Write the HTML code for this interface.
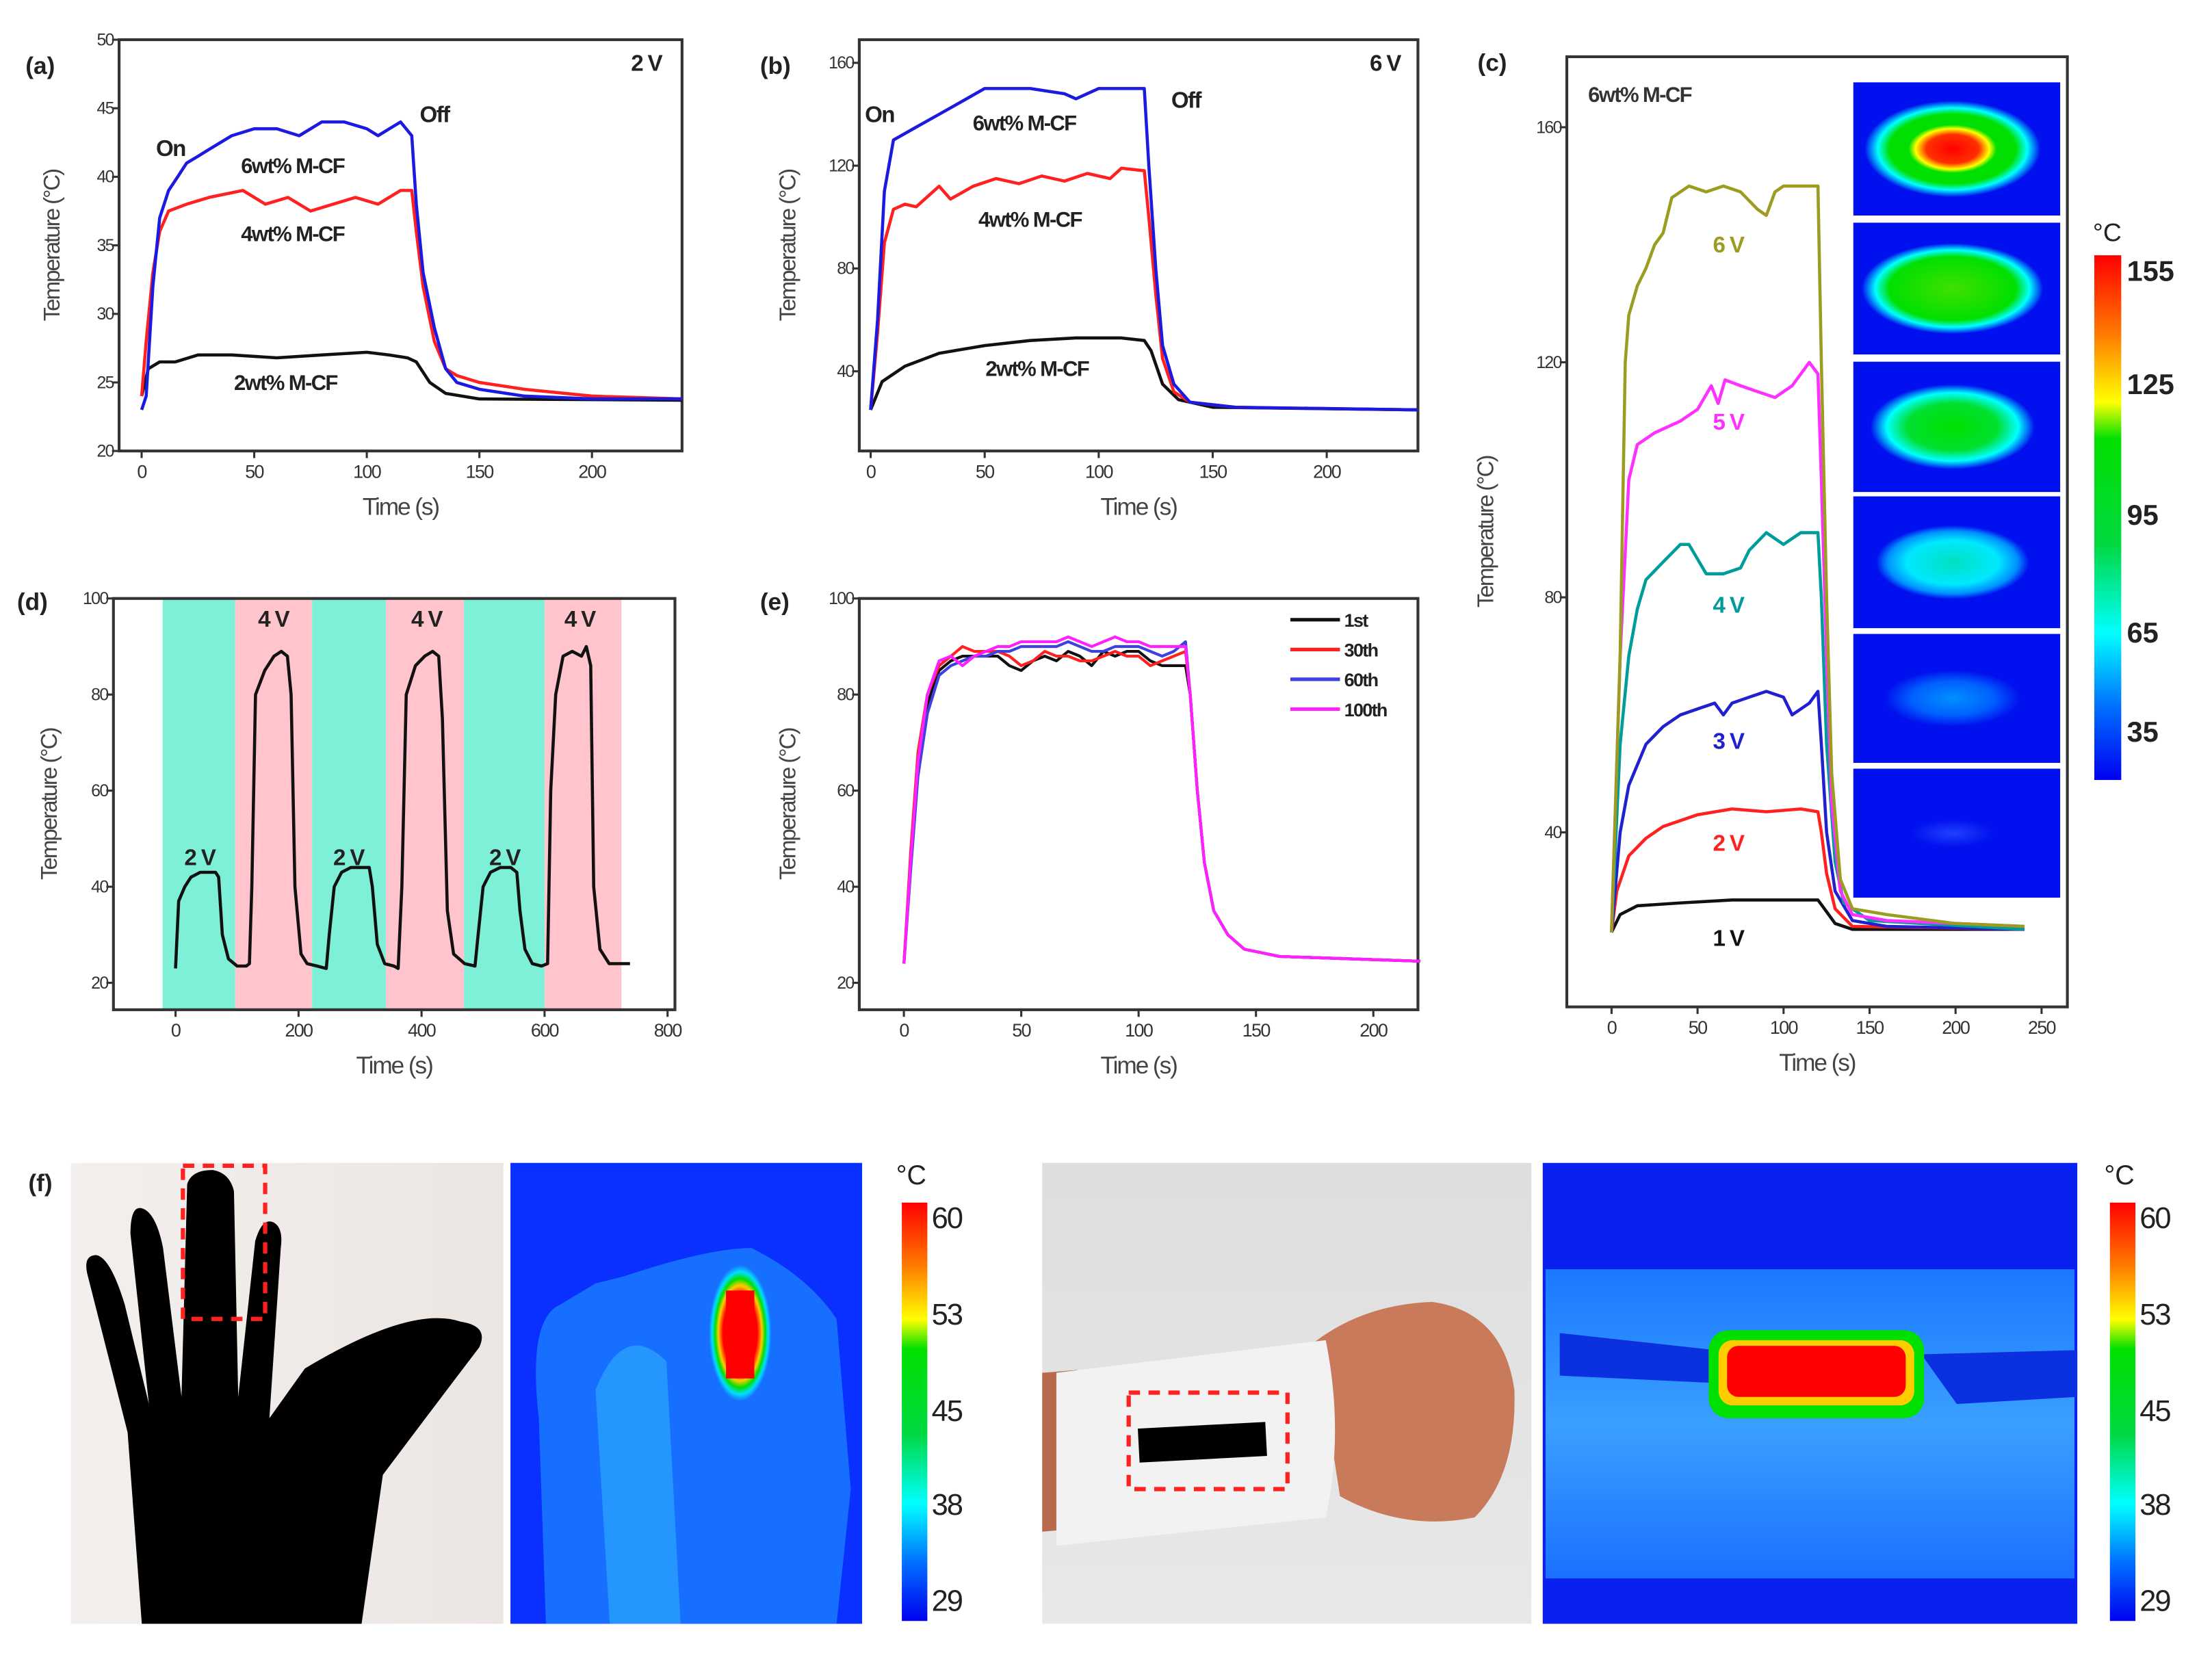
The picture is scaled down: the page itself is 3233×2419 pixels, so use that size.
<!DOCTYPE html>
<html><head><meta charset="utf-8"><style>
html,body{margin:0;padding:0;background:#fff;}
svg{display:block;}
text{font-family:"Liberation Sans",Arial,sans-serif;}
</style></head><body>
<svg id="fig" width="3233" height="2419" viewBox="0 0 1560 1167" preserveAspectRatio="none" xmlns="http://www.w3.org/2000/svg">
<defs>
<linearGradient id="cbar" x1="0" y1="0" x2="0" y2="1">
<stop offset="0" stop-color="#ff0000"/><stop offset="0.15" stop-color="#ff7a00"/><stop offset="0.28" stop-color="#ffff00"/><stop offset="0.35" stop-color="#00e000"/><stop offset="0.55" stop-color="#00d840"/><stop offset="0.72" stop-color="#00ffff"/><stop offset="0.86" stop-color="#0070ff"/><stop offset="1" stop-color="#0000f0"/>
</linearGradient>
<radialGradient id="t1"><stop offset="0" stop-color="#ff0000"/><stop offset="0.3" stop-color="#ff3000"/><stop offset="0.42" stop-color="#ffff00"/><stop offset="0.5" stop-color="#00e000"/><stop offset="0.72" stop-color="#00e000"/><stop offset="0.85" stop-color="#00ffff"/><stop offset="1" stop-color="#0010ee"/></radialGradient>
<radialGradient id="t2"><stop offset="0" stop-color="#40e000"/><stop offset="0.7" stop-color="#00e000"/><stop offset="0.85" stop-color="#00ffff"/><stop offset="1" stop-color="#0010ee"/></radialGradient>
<radialGradient id="t3"><stop offset="0" stop-color="#00e000"/><stop offset="0.55" stop-color="#00e030"/><stop offset="0.8" stop-color="#00ffff"/><stop offset="1" stop-color="#0010ee"/></radialGradient>
<radialGradient id="t4"><stop offset="0" stop-color="#00e0c0"/><stop offset="0.6" stop-color="#00e8ff"/><stop offset="0.85" stop-color="#0090ff"/><stop offset="1" stop-color="#0010ee"/></radialGradient>
<radialGradient id="t5"><stop offset="0" stop-color="#0090ff"/><stop offset="0.6" stop-color="#0060ff"/><stop offset="1" stop-color="#0010ee"/></radialGradient>
<radialGradient id="t6"><stop offset="0" stop-color="#2040ff"/><stop offset="1" stop-color="#0010ee"/></radialGradient>
<radialGradient id="hot"><stop offset="0" stop-color="#ff0000"/><stop offset="0.55" stop-color="#ff0000"/><stop offset="0.7" stop-color="#ffcc00"/><stop offset="0.8" stop-color="#00e000"/><stop offset="0.9" stop-color="#00ddff"/><stop offset="1" stop-color="#00ddff" stop-opacity="0"/></radialGradient>
<linearGradient id="bg1" x1="0" y1="0" x2="1" y2="0"><stop offset="0" stop-color="#f3efec"/><stop offset="1" stop-color="#ece6e3"/></linearGradient>
<linearGradient id="bg2" x1="0" y1="0" x2="0" y2="1"><stop offset="0" stop-color="#dedede"/><stop offset="1" stop-color="#e8e8e8"/></linearGradient>
<linearGradient id="band" x1="0" y1="0" x2="0" y2="1"><stop offset="0" stop-color="#1a78ff"/><stop offset="0.5" stop-color="#3aa0ff"/><stop offset="1" stop-color="#1a70ff"/></linearGradient>
</defs>
<g id="charts"></g>
<g id="images"></g>
</svg>
<script>
// ---------- Panel (a) data ----------
const aT6 = [0,2,5,8,12,16,20,25,30,40,50,60,70,80,90,100,105,110,115,120,122,125,130,135,140,150,170,200,240];
const aV6 = [23,24,32,37,39,40,41,41.5,42,43,43.5,43.5,43,44,44,43.5,43,43.5,44,43,38,33,29,26,25,24.5,24,23.8,23.8];
const aT4 = [0,2,5,8,12,20,30,45,55,65,75,85,95,105,115,120,122,125,130,135,140,150,170,200,240];
const aV4 = [24,28,33,36,37.5,38,38.5,39,38,38.5,37.5,38,38.5,38,39,39,36,32,28,26,25.5,25,24.5,24,23.8];
const aT2 = [0,3,8,15,25,40,60,80,100,110,118,122,128,135,150,240];
const aV2 = [24,26,26.5,26.5,27,27,26.8,27,27.2,27,26.8,26.5,25,24.2,23.8,23.7];
// ---------- Panel (b) data ----------
const bT6 = [0,3,6,10,20,30,40,50,70,85,90,100,120,122,125,128,133,140,160,240];
const bV6 = [25,60,110,130,135,140,145,150,150,148,146,150,150,120,80,50,35,28,26,25];
const bT4 = [0,3,6,10,15,20,30,35,45,55,65,75,85,95,105,110,120,122,125,128,133,140,160,240];
const bV4 = [25,55,90,103,105,104,112,107,112,115,113,116,114,117,115,119,118,100,70,45,32,28,26,25];
const bT2 = [0,5,15,30,50,70,90,110,120,123,128,135,150,240];
const bV2 = [25,36,42,47,50,52,53,53,52,48,35,29,26,25];
// ---------- Panel (c) data ----------
const cT6 = [0,5,8,10,15,20,25,30,35,45,55,65,75,85,90,95,100,110,120,122,125,128,133,140,160,200,240];
const cV6 = [23,70,120,128,133,136,140,142,148,150,149,150,149,146,145,149,150,150,150,120,80,50,32,27,26,24.5,24];
const cT5 = [0,5,10,15,25,40,50,58,62,66,75,85,95,105,115,120,122,125,128,133,140,160,240];
const cV5 = [23,70,100,106,108,110,112,116,113,117,116,115,114,116,120,118,100,70,45,30,26,25,24];
const cT4 = [0,5,10,15,20,30,40,45,55,65,75,80,90,100,110,120,122,125,130,135,150,240];
const cV4 = [23,55,70,78,83,86,89,89,84,84,85,88,91,89,91,91,80,55,35,28,25,23.5];
const cT3 = [0,5,10,20,30,40,50,60,65,70,80,90,100,105,110,115,120,122,125,130,140,160,240];
const cV3 = [23,40,48,55,58,60,61,62,60,62,63,64,63,60,61,62,64,55,40,30,25,24,23.5];
const cT2 = [0,3,10,20,30,50,70,90,110,120,122,125,130,140,240];
const cV2 = [23,30,36,39,41,43,44,43.5,44,43.5,40,33,27,24,23.5];
const cT1 = [0,5,15,40,70,100,120,125,130,140,240];
const cV1 = [23,26,27.5,28,28.5,28.5,28.5,26.5,24.5,23.5,23.5];
// ---------- Panel (d) data ----------
const dT = [0,5,15,25,40,55,65,70,76,86,100,115,120,124,130,145,160,172,182,188,194,204,214,230,245,250,258,270,285,300,315,320,328,340,355,362,368,375,390,405,418,428,434,442,452,470,487,492,500,512,528,545,555,560,568,580,595,605,610,618,630,645,660,668,675,680,690,705,739];
const dV = [23,37,40,42,43,43,43,42,30,25,23.5,23.5,24,40,80,85,88,89,88,80,40,26,24,23.5,23,30,40,43,44,44,44,40,28,24,23.5,23,40,80,86,88,89,88,75,35,26,24,23.5,30,40,43,44,44,43,35,27,24,23.5,24,60,80,88,89,88,90,86,40,27,24,24];
const dBands = [[-21,97,"#7ff0d8"],[97,222,"#ffc4cc"],[222,342,"#7ff0d8"],[342,469,"#ffc4cc"],[469,600,"#7ff0d8"],[600,725,"#ffc4cc"]];
// ---------- Panel (e) data ----------
const eT = [0,3,6,10,15,20,25,30,35,40,45,50,55,60,65,70,75,80,85,90,95,100,105,110,115,120,122,125,128,132,138,145,160,220];
const e1 = [24,45,65,78,85,87,88,88,88,88,86,85,87,88,87,89,88,86,89,88,89,89,87,86,86,86,80,60,45,35,30,27,25.5,24.5];
const e30 = [24,48,68,80,86,88,90,89,89,89,88,86,87,89,88,88,87,87,88,89,88,88,86,87,88,89,80,60,45,35,30,27,25.5,24.5];
const e60 = [24,44,63,76,84,86,87,88,88,89,89,90,90,90,90,91,90,89,89,90,90,90,89,88,89,91,80,60,45,35,30,27,25.5,24.5];
const e100 = [24,46,66,80,87,88,86,88,89,90,90,91,91,91,91,92,91,90,91,92,91,91,90,90,90,90,80,60,45,35,30,27,25.5,24.5];
const eLegend = ["1st","30th","60th","100th"];
const eColors = ["#111","#ff2020","#4040e0","#ff20ff"];

const NS = "http://www.w3.org/2000/svg";
const charts = document.getElementById('charts');
function mk(tag, attrs, parent, txt){
  const e = document.createElementNS(NS, tag);
  for (const k in attrs) e.setAttribute(k, attrs[k]);
  if (txt !== undefined) e.textContent = txt;
  (parent||charts).appendChild(e);
  return e;
}
function panel(cfg){
  const g = mk('g', {});
  
  
  const sx = v => cfg.x0 + (v - cfg.xmin) / (cfg.xmax - cfg.xmin) * (cfg.x1 - cfg.x0);
  const sy = v => cfg.y1 - (v - cfg.ymin) / (cfg.ymax - cfg.ymin) * (cfg.y1 - cfg.y0);
  return {g, sx, sy};
}
function frame(p, cfg){
  const r = mk('rect', {x:cfg.x0, y:cfg.y0, width:cfg.x1-cfg.x0, height:cfg.y1-cfg.y0, fill:'none', stroke:'#333', 'stroke-width':2}, p.g);
  
  
  cfg.xticks.forEach(t => {
    const X = p.sx(t);
    mk('line', {x1:X, x2:X, y1:cfg.y1, y2:cfg.y1+5, stroke:'#333', 'stroke-width':1.5}, p.g);
    const tl = mk('text', {x:X, y:cfg.y1+19, 'font-size':13, 'text-anchor':'middle', fill:'#333', 'letter-spacing':-0.8}, p.g, t);
    
    
  });
  cfg.yticks.forEach(t => {
    const Y = p.sy(t);
    mk('line', {x1:cfg.x0-5, x2:cfg.x0, y1:Y, y2:Y, stroke:'#333', 'stroke-width':1.5}, p.g);
    const tl = mk('text', {x:cfg.x0-4, y:Y+4, 'font-size':12, 'text-anchor':'end', fill:'#333', 'letter-spacing':-0.8}, p.g, t);
    
    
  });
  const xt = mk('text', {x:(cfg.x0+cfg.x1)/2, y:cfg.y1+45, 'font-size':17, 'text-anchor':'middle', fill:'#444', 'letter-spacing':-1}, p.g, 'Time (s)');
  
  
  const yx = cfg.x0 - cfg.ytOff, yy = (cfg.y0+cfg.y1)/2;
  const yt = mk('text', {x:yx, y:yy, 'font-size':16, 'text-anchor':'middle', fill:'#444', 'letter-spacing':-1, transform:`rotate(-90 ${yx} ${yy})`}, p.g, 'Temperature (°C)');
  
  
  const pl = mk('text', {x:cfg.lx, y:cfg.ly, 'font-size':17, 'font-weight':'bold', fill:'#222'}, p.g, cfg.label);
  
  
}
function series(p, ts, vs, color, name, w){
  const pts = ts.map((t,i) => p.sx(t).toFixed(1)+','+p.sy(vs[i]).toFixed(1)).join(' ');
  const l = mk('polyline', {points:pts, fill:'none', stroke:color, 'stroke-width':w||2.2, 'stroke-linejoin':'round'}, p.g);
  
  
}
function label(p, x, y, txt, color, size, name){
  const t = mk('text', {x:x, y:y, 'font-size':size||15, 'font-weight':'bold', fill:color||'#222', 'letter-spacing':-0.8}, p.g, txt);
  
  
}

// Panel a
const ca = {name:'panel-a', x0:84, x1:481, y0:28, y1:318, xmin:-10, xmax:240, ymin:20, ymax:50, xticks:[0,50,100,150,200], yticks:[20,25,30,35,40,45,50], ytOff:42, label:'(a)', lx:18, ly:52};
const pa = panel(ca); frame(pa, ca);
series(pa, aT2, aV2, '#111', 'line-2wt');
series(pa, aT4, aV4, '#ff2020', 'line-4wt');
series(pa, aT6, aV6, '#1a1ae0', 'line-6wt');
label(pa,110,110,'On','#222',16,'on-label'); label(pa,296,86,'Off','#222',16,'off-label');
label(pa,170,122,'6wt% M-CF','#222',15,'label-6wt'); label(pa,170,170,'4wt% M-CF','#222',15,'label-4wt');
label(pa,165,275,'2wt% M-CF','#222',15,'label-2wt'); label(pa,445,50,'2 V','#222',16,'voltage-label');

// Panel b
const cb = {name:'panel-b', x0:606, x1:1000, y0:28, y1:318, xmin:-5, xmax:240, ymin:9, ymax:169, xticks:[0,50,100,150,200], yticks:[40,80,120,160], ytOff:45, label:'(b)', lx:536, ly:52};
const pb = panel(cb); frame(pb, cb);
series(pb, bT2, bV2, '#111', 'line-2wt');
series(pb, bT4, bV4, '#ff2020', 'line-4wt');
series(pb, bT6, bV6, '#1a1ae0', 'line-6wt');
label(pb,610,86,'On','#222',16,'on-label'); label(pb,826,76,'Off','#222',16,'off-label');
label(pb,686,92,'6wt% M-CF','#222',15,'label-6wt'); label(pb,690,160,'4wt% M-CF','#222',15,'label-4wt');
label(pb,695,265,'2wt% M-CF','#222',15,'label-2wt'); label(pb,966,50,'6 V','#222',16,'voltage-label');

// Panel c
const cc = {name:'panel-c', x0:1105, x1:1458, y0:40, y1:710, xmin:-26, xmax:265, ymin:10.3, ymax:172, xticks:[0,50,100,150,200,250], yticks:[40,80,120,160], ytOff:52, label:'(c)', lx:1042, ly:50};
const pc = panel(cc); frame(pc, cc);
series(pc, cT1, cV1, '#111', 'line-1v');
series(pc, cT2, cV2, '#ff2020', 'line-2v');
series(pc, cT3, cV3, '#2020d0', 'line-3v');
series(pc, cT4, cV4, '#009c9c', 'line-4v');
series(pc, cT5, cV5, '#ff30ff', 'line-5v');
series(pc, cT6, cV6, '#9c9c20', 'line-6v');
label(pc,1208,178,'6 V','#9c9c20',16,'label-6v'); label(pc,1208,303,'5 V','#ff30ff',16,'label-5v');
label(pc,1208,432,'4 V','#009c9c',16,'label-4v'); label(pc,1208,528,'3 V','#2020d0',16,'label-3v');
label(pc,1208,600,'2 V','#ff2020',16,'label-2v'); label(pc,1208,667,'1 V','#111',16,'label-1v');
label(pc,1120,72,'6wt% M-CF','#333',15,'sample-label');

// Panel d
const cd = {name:'panel-d', x0:80, x1:476, y0:422, y1:712, xmin:-101, xmax:812, ymin:14.4, ymax:100, xticks:[0,200,400,600,800], yticks:[20,40,60,80,100], ytOff:40, label:'(d)', lx:12, ly:430};
const pd = panel(cd);
dBands.forEach(b => {
  const r = mk('rect', {x:pd.sx(b[0]), y:cd.y0, width:pd.sx(b[1])-pd.sx(b[0]), height:cd.y1-cd.y0, fill:b[2]}, pd.g);
  
  
});
frame(pd, cd);
series(pd, dT, dV, '#111', 'cycle-line');
[[130,610,'2 V'],[235,610,'2 V'],[345,610,'2 V'],[182,442,'4 V'],[290,442,'4 V'],[398,442,'4 V']].forEach(a => label(pd,a[0],a[1],a[2],'#222',16,'voltage-annotation'));

// Panel e
const ce = {name:'panel-e', x0:606, x1:1000, y0:422, y1:712, xmin:-19, xmax:219, ymin:14.4, ymax:100, xticks:[0,50,100,150,200], yticks:[20,40,60,80,100], ytOff:45, label:'(e)', lx:536, ly:430};
const pe = panel(ce); frame(pe, ce);
[e1,e30,e60,e100].forEach((s,i) => series(pe, eT, s, eColors[i], 'cycle-'+eLegend[i], 2));
eLegend.forEach((n,i) => {
  const y = 437 + i*21;
  mk('line', {x1:910, x2:945, y1:y, y2:y, stroke:eColors[i], 'stroke-width':2.5}, pe.g);
  const t = mk('text', {x:948, y:y+5, 'font-size':13, 'font-weight':'bold', fill:'#222', 'letter-spacing':-0.8}, pe.g, n);
  
  
});

// Images
const im = document.getElementById('images');
const defs = document.querySelector('defs');
// thermal insets in c
const tiles = [[58,152,'t1',62,34],[157,250,'t2',64,32],[255,347,'t3',58,30],[350,443,'t4',54,26],[447,538,'t5',48,20],[542,633,'t6',30,10]];
tiles.forEach((t,i) => {
  const cp = mk('clipPath', {id:'clip'+i}, defs);
  mk('rect', {x:1307, y:t[0], width:146, height:t[1]-t[0]}, cp);
  const g = mk('g', {'clip-path':'url(#clip'+i+')'}, im);
  
  
  mk('rect', {x:1307, y:t[0], width:146, height:t[1]-t[0], fill:'#0010ee'}, g);
  mk('ellipse', {cx:1377, cy:(t[0]+t[1])/2, rx:t[3], ry:t[4], fill:'url(#'+t[2]+')'}, g);
});
const cb1 = mk('rect', {x:1477, y:180, width:19, height:370, fill:'url(#cbar)'}, im);
 
[['155',198],['125',278],['95',370],['65',453],['35',523]].forEach(a => {
  const t = mk('text', {x:1500, y:a[1], 'font-size':20, 'font-weight':'bold', fill:'#222'}, im, a[0]);
   
});
mk('text', {x:1476, y:170, 'font-size':18, fill:'#222'}, im, '°C');

// (f) hand photo
const fl = mk('text', {x:20, y:840, 'font-size':17, 'font-weight':'bold', fill:'#222'}, im, '(f)');
 
const hp = mk('g', {}, im);  
mk('rect', {x:50, y:820, width:305, height:325, fill:'url(#bg1)'}, hp);
mk('path', {d:'M100 1145 L90 1010 L62 900 Q58 885 68 885 Q78 887 88 920 L105 990 L92 870 Q92 850 100 852 Q110 855 115 880 L128 985 L132 835 Q135 825 150 825 Q162 827 165 840 L168 985 L180 875 Q185 858 193 862 Q200 866 198 880 L190 1000 L215 965 Q290 920 325 932 Q345 935 338 950 Q300 1000 270 1040 L255 1145 Z', fill:'#000'}, hp);
mk('rect', {x:129, y:822, width:58, height:108, fill:'none', stroke:'#ff2020', 'stroke-width':3, 'stroke-dasharray':'8 6'}, hp);
// hand thermal
const ht = mk('g', {}, im);  
mk('rect', {x:360, y:820, width:248, height:325, fill:'#0a30ff'}, ht);
mk('path', {d:'M385 1145 L380 1000 Q372 930 395 920 L420 905 L440 900 Q500 880 530 880 Q570 900 590 930 L600 1050 L590 1145 Z', fill:'#1a80ff', opacity:0.8}, ht);
mk('path', {d:'M430 1145 L420 980 Q440 930 470 960 L480 1145 Z', fill:'#30b0ff', opacity:0.6}, ht);
mk('ellipse', {cx:522, cy:940, rx:22, ry:48, fill:'url(#hot)'}, ht);
mk('rect', {x:512, y:910, width:20, height:62, fill:'#ff0000'}, ht);
// colorbar f1
const cf1 = mk('rect', {x:636, y:848, width:18, height:295, fill:'url(#cbar)'}, im);
 
// wrist photo
const wp = mk('g', {}, im);  
mk('rect', {x:735, y:820, width:345, height:325, fill:'url(#bg2)'}, wp);
mk('path', {d:'M735 968 L760 966 L760 1078 L735 1080 Z', fill:'#b86a4c'}, wp);
mk('path', {d:'M925 948 Q960 920 1010 918 Q1060 925 1068 980 Q1070 1040 1040 1070 Q990 1080 945 1055 L935 990 Z', fill:'#c87a5a'}, wp);
mk('path', {d:'M745 968 L935 945 Q948 1010 935 1070 L745 1090 Z', fill:'#f2f2f2'}, wp);
mk('rect', {x:803, y:1005, width:90, height:24, fill:'#000', transform:'rotate(-3 848 1017)'}, wp);
mk('rect', {x:796, y:982, width:112, height:68, fill:'none', stroke:'#ff2020', 'stroke-width':3, 'stroke-dasharray':'8 6'}, wp);
// wrist thermal
const wt = mk('g', {}, im);  
mk('rect', {x:1088, y:820, width:377, height:325, fill:'#0a20f0'}, wt);
mk('rect', {x:1090, y:895, width:373, height:218, fill:'url(#band)'}, wt);
mk('path', {d:'M1100 940 L1210 952 L1205 975 L1100 970 Z', fill:'#0a30e0'}, wt);
mk('path', {d:'M1355 955 L1465 952 L1465 985 L1380 990 Z', fill:'#0a30e0'}, wt);
mk('rect', {x:1205, y:938, width:152, height:62, rx:14, fill:'#00e000'}, wt);
mk('rect', {x:1212, y:945, width:138, height:46, rx:10, fill:'#ffcc00'}, wt);
mk('rect', {x:1218, y:949, width:126, height:36, rx:8, fill:'#ff0000'}, wt);
const cf2 = mk('rect', {x:1488, y:848, width:18, height:295, fill:'url(#cbar)'}, im);
 
[[657,'60',866],[657,'53',934],[657,'45',1002],[657,'38',1068],[657,'29',1136]].forEach(a => {
  [a[0], 1509].forEach(x => {
    const t = mk('text', {x:x, y:a[2], 'font-size':21, fill:'#222', 'letter-spacing':-1}, im, a[1]);
     
  });
});
mk('text', {x:632, y:835, 'font-size':19, fill:'#222'}, im, '°C');
mk('text', {x:1484, y:835, 'font-size':19, fill:'#222'}, im, '°C');
</script>
</body></html>
